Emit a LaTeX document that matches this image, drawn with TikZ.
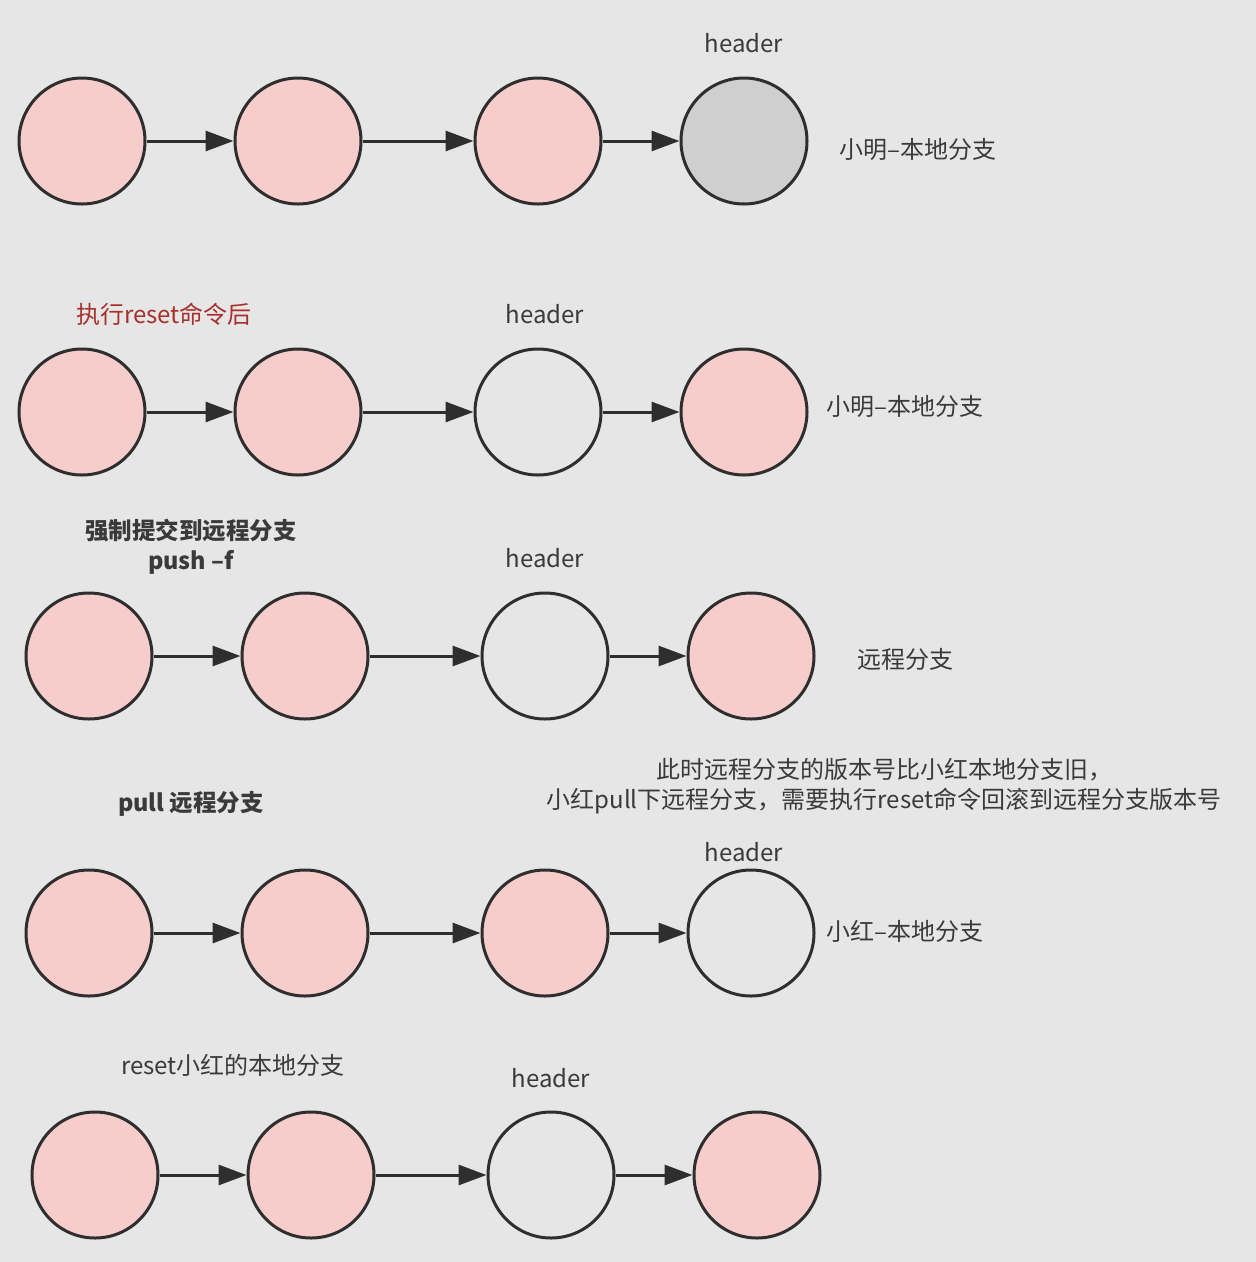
\documentclass[tikz,border=0pt]{standalone}
\usepackage{fontspec}
\setmainfont{Noto Sans CJK SC}
\usetikzlibrary{arrows.meta}
\definecolor{bg}{HTML}{E6E6E6}
\definecolor{commitpink}{HTML}{F7CDCC}
\definecolor{commitgray}{HTML}{CFCFCF}
\definecolor{ink}{HTML}{2E2E2E}
\definecolor{txt}{HTML}{3A3A3A}
\definecolor{note}{HTML}{A8302C}
\tikzset{
  commit/.style={circle, draw=ink, line width=3pt, minimum size=126pt, inner sep=0pt},
  done/.style={commit, fill=commitpink},
  head/.style={commit, fill=commitgray},
  open/.style={commit},
  link/.style={draw=ink, line width=3pt, -{Triangle[length=28pt, width=20pt]}},
  lbl/.style={text=txt, font=\fontsize{24}{28}\selectfont, inner sep=0pt},
  bold/.style={lbl, font=\fontsize{23.5}{30}\selectfont\bfseries, align=center},
}
\begin{document}
\begin{tikzpicture}[x=1pt, y=-1pt]
\fill[bg] (0,0) rectangle (1256,1262);
\useasboundingbox (0,0) rectangle (1256,1262);

% row 1: local branch before reset
\node[done] (a1) at (82,141) {};
\node[done] (a2) at (298,141) {};
\node[done] (a3) at (538,141) {};
\node[head] (a4) at (744,141) {};
\draw[link] (a1) -- (a2);
\draw[link] (a2) -- (a3);
\draw[link] (a3) -- (a4);
\node[lbl] (ah) at (744,43) {header};
\node[lbl] (an) at (918,149) {小明–本地分支};

% row 2: after reset
\node[done] (b1) at (82,412) {};
\node[done] (b2) at (298,412) {};
\node[open] (b3) at (538,412) {};
\node[done] (b4) at (744,412) {};
\draw[link] (b1) -- (b2);
\draw[link] (b2) -- (b3);
\draw[link] (b3) -- (b4);
\node[lbl, text=note] (bt) at (164,314) {执行reset命令后};
\node[lbl] (bh) at (545,314) {header};
\node[lbl] (bn) at (905,406) {小明–本地分支};

% row 3: remote branch after push -f
\node[done] (c1) at (89,656) {};
\node[done] (c2) at (305,656) {};
\node[open] (c3) at (545,656) {};
\node[done] (c4) at (751,656) {};
\draw[link] (c1) -- (c2);
\draw[link] (c2) -- (c3);
\draw[link] (c3) -- (c4);
\node[bold] (ct) at (191,547) {强制提交到远程分支\\push –f};
\node[lbl] (ch) at (545,558) {header};
\node[lbl] (cn) at (905,659) {远程分支};

% row 4: local branch after pull
\node[done] (d1) at (89,933) {};
\node[done] (d2) at (305,933) {};
\node[done] (d3) at (545,933) {};
\node[open] (d4) at (751,933) {};
\draw[link] (d1) -- (d2);
\draw[link] (d2) -- (d3);
\draw[link] (d3) -- (d4);
\node[bold] (dt) at (191,804) {pull 远程分支};
\node[lbl, align=center, font=\fontsize{24}{30}\selectfont] (dx) at (884,786) {此时远程分支的版本号比小红本地分支旧，\\小红pull下远程分支，需要执行reset命令回滚到远程分支版本号};
\node[lbl] (dh) at (744,852) {header};
\node[lbl] (dn) at (905,931) {小红–本地分支};

% row 5: local branch after reset
\node[done] (e1) at (95,1175) {};
\node[done] (e2) at (311,1175) {};
\node[open] (e3) at (551,1175) {};
\node[done] (e4) at (757,1175) {};
\draw[link] (e1) -- (e2);
\draw[link] (e2) -- (e3);
\draw[link] (e3) -- (e4);
\node[lbl] (et) at (233,1065) {reset小红的本地分支};
\node[lbl] (eh) at (551,1078) {header};
\end{tikzpicture}
\end{document}
